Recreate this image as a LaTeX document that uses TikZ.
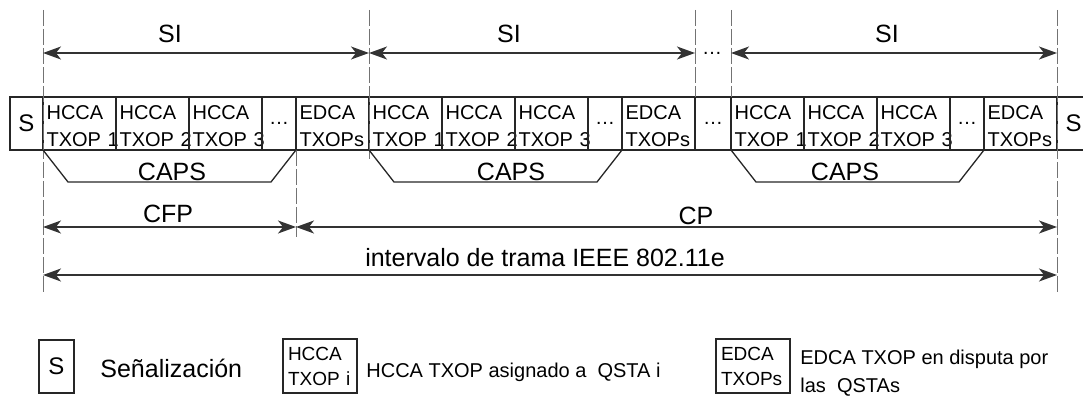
\documentclass[tikz,border=0pt]{standalone}
\usepackage{fontspec}
\setmainfont{Liberation Sans}
\usetikzlibrary{positioning, arrows.meta, calc}

\begin{document}
\begin{tikzpicture}[
		x=0.5pt, y=-0.5pt,
		font=\fontsize{10}{13.5}\selectfont,
		node distance=0pt,
		>={Stealth[length=9pt, width=6.5pt, inset=2.5pt]},
		slot/.style={draw=black!85, line width=0.65pt, outer sep=0pt, inner sep=0pt, minimum height=26.5pt},
		sigbox/.style={slot, minimum width=16.5pt, font=\fontsize{12}{14}\selectfont},
		txop/.style={slot, minimum width=36.5pt, inner xsep=1.8pt, text width=32.9pt, align=left, execute at begin node={\rule{0pt}{9.5pt}}},
		gapbox/.style={slot, minimum width=17pt},
		legbox/.style={slot, minimum width=37pt, minimum height=27pt, inner xsep=2.5pt, text width=32pt, align=left, font=\fontsize{9.5}{12.5}\selectfont},
		lbl/.style={font=\fontsize{12.5}{15}\selectfont, anchor=base, inner sep=0pt},
		note/.style={anchor=base west, inner sep=0pt},
		guide/.style={draw=black!55, line width=0.5pt, dash pattern=on 8pt off 1.5pt},
		dimline/.style={draw=black!80, line width=0.7pt, <->},
		capsline/.style={draw=black!85, line width=0.65pt}
		]
		\useasboundingbox (0,0) rectangle (1083,401);
		
		% Frame, first SI
		\node[sigbox, anchor=north west] (s0) at (10,97) {S};
		\node[txop, right=of s0] (h11) {HCCA\\TXOP~1};
		\node[txop, right=of h11] (h12) {HCCA\\TXOP~2};
		\node[txop, right=of h12] (h13) {HCCA\\TXOP~3};
		\node[gapbox, right=of h13] (g1) {\dots};
		\node[txop, right=of g1] (e1) {EDCA\\TXOPs};
		
		% Second SI
		\node[txop, right=of e1] (h21) {HCCA\\TXOP~1};
		\node[txop, right=of h21] (h22) {HCCA\\TXOP~2};
		\node[txop, right=of h22] (h23) {HCCA\\TXOP~3};
		\node[gapbox, right=of h23] (g2) {\dots};
		\node[txop, right=of g2] (e2) {EDCA\\TXOPs};
		\node[gapbox, minimum width=18pt, right=of e2] (gm) {\dots};
		
		% Last SI
		\node[txop, right=of gm] (h31) {HCCA\\TXOP~1};
		\node[txop, right=of h31] (h32) {HCCA\\TXOP~2};
		\node[txop, right=of h32] (h33) {HCCA\\TXOP~3};
		\node[gapbox, right=of h33] (g3) {\dots};
		\node[txop, right=of g3] (e3) {EDCA\\TXOPs};
		\node[sigbox, draw=none, right=of e3] (s1) {S};
		\draw[capsline] (s1.north west) -- (s1.north east) (s1.south west) -- (s1.south east);
		
		% Dashed guides
		\coordinate (top) at (0,10);
		\coordinate (low) at (0,293);
		\coordinate (cut) at (0,237);
		\draw[guide] (h11.west |- top) -- (h11.west |- low);
		\draw[guide] (e1.east |- top) -- ([yshift=-5pt]e1.south east);
		\draw[guide] (e2.east |- top) -- (e2.north east);
		\draw[guide] (h31.west |- top) -- (h31.north west);
		\draw[guide] (e3.east |- top) -- (e3.east |- low);
		\draw[guide] (g1.south east) -- (g1.east |- cut);
		
		% SI spans
		\coordinate (si) at (0,53);
		\draw[dimline] (h11.west |- si) -- (e1.east |- si);
		\draw[dimline] (e1.east |- si) -- (e2.east |- si);
		\draw[dimline] (h31.west |- si) -- (e3.east |- si);
		\node[lbl] (si1) at (170,43) {SI};
		\node[lbl] (si2) at (509,43) {SI};
		\node[lbl] (si3) at (887,43) {SI};
		\node[anchor=base, inner sep=0pt] (sidots) at (712,55) {\dots};
		
		% CAPS
		\draw[capsline] (h11.south west) -- ++(25,32) -- ($(g1.south east)+(-25,32)$) -- (g1.south east);
		\draw[capsline] (h21.south west) -- ++(25,32) -- ($(g2.south east)+(-25,32)$) -- (g2.south east);
		\draw[capsline] (h31.south west) -- ++(25,32) -- ($(g3.south east)+(-25,32)$) -- (g3.south east);
		\node[lbl] (caps1) at (172,181) {CAPS};
		\node[lbl] (caps2) at (511,181) {CAPS};
		\node[lbl] (caps3) at (845,181) {CAPS};
		
		% CFP, CP and frame interval
		\coordinate (per) at (0,227);
		\coordinate (itv) at (0,275);
		\draw[dimline] (h11.west |- per) -- (g1.east |- per);
		\draw[dimline] (g1.east |- per) -- (e3.east |- per);
		\draw[dimline] (h11.west |- itv) -- (e3.east |- itv);
		\node[lbl] (cfp) at (168,223) {CFP};
		\node[lbl] (cp) at (696,225) {CP};
		\node[lbl] (itvtxt) at (545,266) {intervalo de trama IEEE 802.11e};
		
		% Legend
		\node[sigbox, minimum width=17.5pt, anchor=north west] (lgs) at (39,340) {S};
		\node[note, font=\fontsize{12.5}{15}\selectfont] (lgstxt) at (100,377) {Señalización};
		\node[legbox, anchor=north west] (lgh) at (283,339) {HCCA\\TXOP i};
		\node[note] (lghtxt) at (366,377) {HCCA TXOP asignado a~~QSTA i};
		\node[legbox, anchor=north west] (lge) at (716,339) {EDCA\\TXOPs};
		\node[note, align=left] (lgetxt) at (800,392) {EDCA TXOP en disputa por\\las~~QSTAs};
		
	\end{tikzpicture}
\end{document}
